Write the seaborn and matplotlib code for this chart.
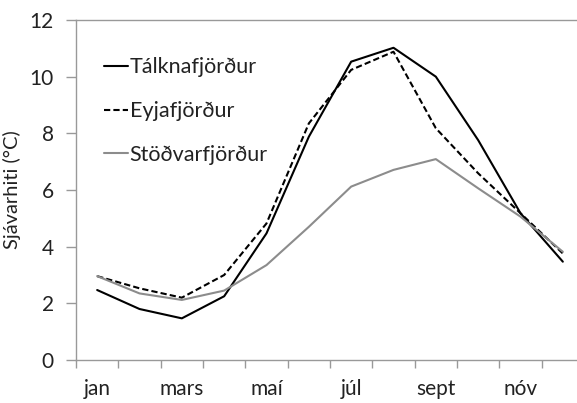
import matplotlib
matplotlib.use("Agg")
import matplotlib.pyplot as plt
import seaborn as sns
import pandas as pd
import numpy as np
from matplotlib.ticker import FixedLocator

months = ["jan", "feb", "mars", "apríl", "maí", "júní", "júlí", "ágúst", "sept", "okt", "nóv", "des"]
shown_labels = ["jan", "", "mars", "", "maí", "", "júl", "", "sept", "", "nóv", ""]
talkna = [2.47, 1.80, 1.47, 2.25, 4.47, 7.88, 10.53, 11.02, 10.0, 7.76, 5.18, 3.47]
eyja = [2.96, 2.53, 2.20, 3.00, 4.82, 8.35, 10.24, 10.88, 8.18, 6.59, 5.18, 3.76]
stodvar = [2.96, 2.35, 2.12, 2.45, 3.35, 4.70, 6.12, 6.71, 7.09, 6.06, 5.06, 3.82]
series_names = ["Tálknafjörður", "Eyjafjörður", "Stöðvarfjörður"]

sns.set_theme(style="white")
plt.rcParams['font.family'] = ['Lato', 'DejaVu Sans']

rows = []
for name, vals in zip(series_names, [talkna, eyja, stodvar]):
    for i, v in enumerate(vals):
        rows.append({"idx": i, "temp": v, "stod": name})
df = pd.DataFrame(rows)

fig = plt.figure(figsize=(5.77, 4.03), dpi=100)
ax = fig.add_axes([76/577, 43/403, 508/577, 340/403])

sns.lineplot(data=df, x="idx", y="temp", hue="stod", style="stod",
             palette={"Tálknafjörður": "black", "Eyjafjörður": "black", "Stöðvarfjörður": "#8c8c8c"},
             dashes={"Tálknafjörður": "", "Eyjafjörður": (3, 1.5), "Stöðvarfjörður": ""},
             linewidth=1.5, ax=ax, legend=True)

ax.set_xlim(-0.5, 11.5)
ax.set_ylim(0, 12)
ax.set_yticks([0, 2, 4, 6, 8, 10, 12])
ax.set_xticks(range(12))
ax.set_xticklabels(shown_labels)
ax.xaxis.set_minor_locator(FixedLocator(np.arange(-0.5, 12, 1)))
ax.tick_params(axis="x", which="major", length=0, labelsize=15, pad=14, colors="#222222")
ax.tick_params(axis="x", which="minor", length=6, width=1, color="#999999", direction="out", bottom=True)
ax.tick_params(axis="y", which="major", length=7, width=1, color="#999999", labelsize=15, pad=9, left=True, labelcolor="#222222")

for s in ["left", "bottom", "top"]:
    ax.spines[s].set_color("#999999")
    ax.spines[s].set_linewidth(1)
ax.spines["right"].set_visible(False)

ax.set_xlabel("")
ax.set_ylabel("Sjávarhiti (°C)", fontsize=14.5, color="#222222", labelpad=6)

leg = ax.legend(loc="upper left", bbox_to_anchor=(0.055, 0.89), frameon=False,
                fontsize=15.5, handlelength=1.1, handletextpad=0.1, labelspacing=1.1,
                borderaxespad=0, borderpad=0)
for t in leg.get_texts():
    t.set_color("#222222")

fig.savefig("out.png", dpi=100)
